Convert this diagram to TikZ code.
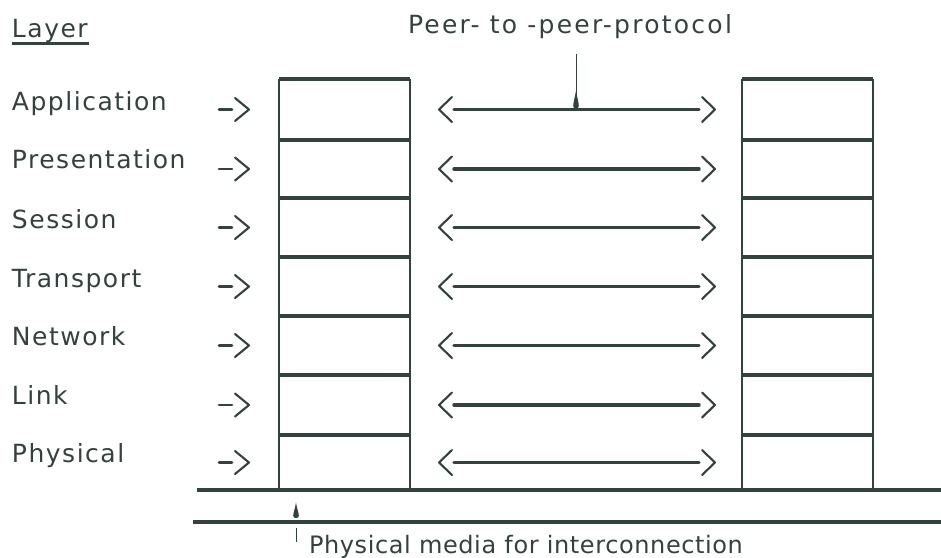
\documentclass[tikz,border=0pt]{standalone}
\usepackage{fontspec}
\setmainfont{DejaVu Sans}
\newfontfamily\labfont[LetterSpace=6]{DejaVu Sans}
\newfontfamily\peerfont[LetterSpace=9]{DejaVu Sans}
\newfontfamily\mediafont[LetterSpace=2.5]{DejaVu Sans}
\usetikzlibrary{calc}
\definecolor{ink}{RGB}{52,66,62}

\tikzset{
  % small teardrop marker, its broad end at the origin
  drop/.pic={\fill[ink] (0,-18) .. controls (0.8,-12) and (2.8,-6) .. (2.8,-2.5)
      .. controls (2.8,-0.5) and (1.5,0) .. (0,0)
      .. controls (-1.5,0) and (-2.8,-0.5) .. (-2.8,-2.5)
      .. controls (-2.8,-6) and (-0.8,-12) .. cycle;},
}

\begin{document}
\begin{tikzpicture}[x=1pt,y=-1pt,
  every node/.style={inner sep=0pt, outer sep=0pt, text=ink},
  lbl/.style={anchor=base west, font=\labfont\fontsize{25}{25}\selectfont},
  cell/.style={rectangle, minimum width=131pt, minimum height=#1, draw=none},
  rule/.style={draw=ink, line width=3.4pt},
  side/.style={draw=ink, line width=1.2pt},
  shaft/.style={draw=ink, line width=3.4pt, line cap=round},
  chev/.style={draw=ink, line width=2.1pt, line cap=round, line join=round},
  leader/.style={draw=ink, line width=1pt},
  media/.style={draw=ink, line width=3.8pt},
]
\fill[white] (0,0) rectangle (941,557);
\useasboundingbox (0,0) rectangle (941,557);

% the two layer stacks
\foreach \i/\t/\b in {1/79/140, 2/140/198, 3/198/257, 4/257/316, 5/316/375, 6/375/435, 7/435/490}{
  \node[cell={(\b-\t)*1pt}] (L\i) at (344.5,{(\t+\b)/2}) {};
  \node[cell={(\b-\t)*1pt}] (R\i) at (807.5,{(\t+\b)/2}) {};
}
\foreach \s in {L,R}{
  \draw[side] (\s1.north west) -- (\s7.south west);
  \draw[side] (\s1.north east) -- (\s7.south east);
  \foreach \i in {1,...,7}
    \draw[rule] (\s\i.north west) -- (\s\i.north east);
}

% layer names
\node[lbl] (layer) at (12,37) {Layer};
\draw[draw=ink, line width=2.4pt] ($(layer.base west)+(0,6.5)$) -- ($(layer.base east)+(1,6.5)$);
\node[lbl] (n1) at (12,110) {Application};
\node[lbl] (n2) at (12,168) {Presentation};
\node[lbl] (n3) at (12,228) {Session};
\node[lbl] (n4) at (12,287) {Transport};
\node[lbl] (n5) at (12,345) {Network};
\node[lbl] (n6) at (12,404) {Link};
\node[lbl] (n7) at (12,462) {Physical};

% entry arrows and peer-to-peer arrows
\foreach \i in {1,...,7}{
  \draw[shaft, line width=2.8pt] ($(L\i.west)+(-60,0)$) -- ($(L\i.west)+(-47,0)$);
  \draw[chev] ($(L\i.west)+(-44,-11.5)$) -- ($(L\i.west)+(-30,0)$) -- ($(L\i.west)+(-44,11.5)$);
  \draw[shaft] ($(L\i.east)+(44,0)$) -- ($(R\i.west)+(-43,0)$);
  \draw[chev] ($(L\i.east)+(42,-12.5)$) -- ($(L\i.east)+(29,0)$) -- ($(L\i.east)+(42,12.5)$);
  \draw[chev] ($(R\i.west)+(-40,-12.5)$) -- ($(R\i.west)+(-27,0)$) -- ($(R\i.west)+(-40,12.5)$);
}

% peer-to-peer protocol label and its pointer
\node[lbl, font=\peerfont\fontsize{25}{25}\selectfont] (peer) at (408,33) {Peer- to -peer-protocol};
\coordinate (peerhit) at ($(L1)!0.5!(R1)$);
\draw[leader] (peerhit |- 0,54) -- (peerhit);
\pic at ($(peerhit)+(0,-1)$) {drop};

% interconnection media
\draw[media] (197,490) -- (941,490);
\draw[media] (193,522) -- (941,522);
\node[lbl, font=\mediafont\fontsize{24}{24}\selectfont] (medialbl) at (309,553) {Physical media for interconnection};
\coordinate (mediamark) at ($(medialbl.base west)+(-13,-35)$);
\pic[yscale=0.85] at (mediamark) {drop};
\draw[leader] ($(medialbl.base west)+(-13,-25)$) -- ($(medialbl.base west)+(-13,-11)$);
\end{tikzpicture}
\end{document}
